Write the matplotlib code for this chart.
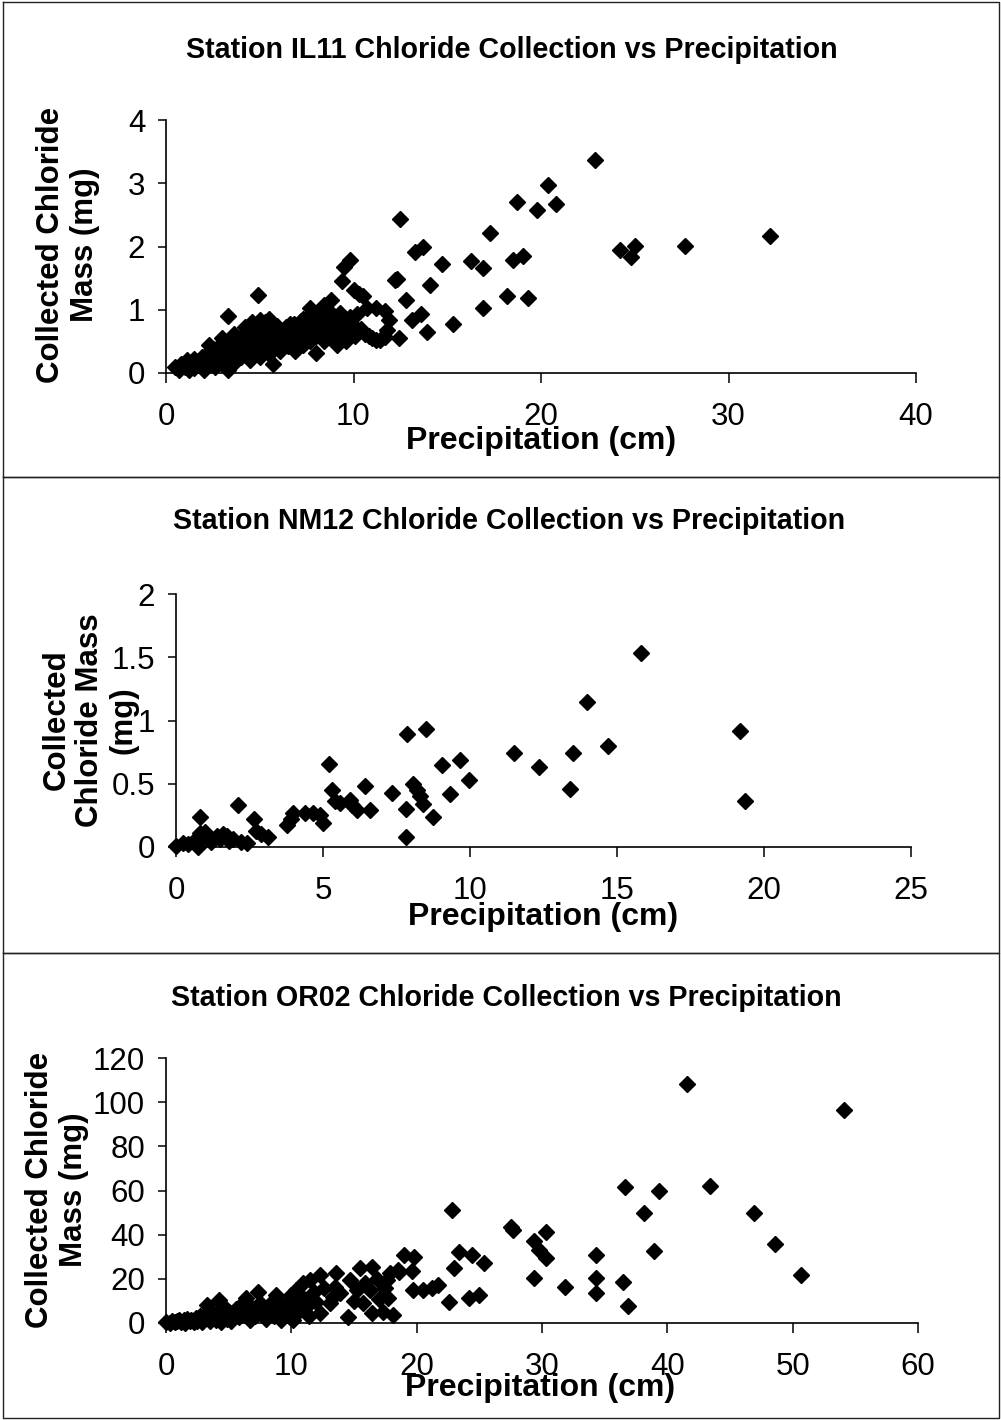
import numpy as np
import matplotlib
matplotlib.use("Agg")
import matplotlib.pyplot as plt
from matplotlib.lines import Line2D

plt.rcParams['font.family'] = ['Liberation Sans', 'DejaVu Sans']

# Station IL11: precipitation (cm), chloride mass (mg)
il11_x = [0.5, 0.7, 0.8, 1.0, 1.1, 1.2, 1.3, 1.5, 1.5, 1.7, 1.8, 1.9, 2.0, 2.1, 2.2, 2.3, 2.5, 2.5,
          2.6, 2.7, 2.8, 2.9, 3.0, 3.1, 3.2, 3.3, 3.3, 3.4, 3.5, 3.6, 3.7, 3.8, 3.9, 4.0, 4.0, 4.1,
          4.2, 4.3, 4.4, 4.5, 4.5, 4.6, 4.7, 4.8, 4.9, 5.0, 5.0, 5.1, 5.2, 5.3, 5.4, 5.5, 5.5, 5.6,
          5.7, 5.8, 5.9, 6.0, 6.1, 6.2, 6.3, 6.4, 6.5, 6.6, 6.7, 6.8, 6.9, 7.0, 7.1, 7.2, 7.3, 7.4,
          7.5, 7.6, 7.7, 7.7, 7.8, 7.9, 8.0, 8.0, 8.1, 8.2, 8.3, 8.4, 8.4, 8.5, 8.6, 8.7, 8.8, 8.8,
          8.9, 9.0, 9.1, 9.2, 9.3, 9.4, 9.4, 9.5, 9.5, 9.6, 9.7, 9.8, 9.8, 9.9, 10.0, 10.0, 10.1,
          10.2, 10.3, 10.4, 10.5, 10.6, 10.7, 10.8, 11.0, 11.2, 11.4, 11.7, 11.8, 11.9, 11.7, 11.2,
          2.3, 2.7, 3.0, 3.6, 4.2, 4.6, 5.3, 6.0, 6.6, 7.3,
          3.3, 4.9, 5.0, 5.5, 12.2, 12.3, 12.4, 12.5, 12.8, 13.1, 13.3, 13.6, 13.7, 13.9, 14.1,
          14.7, 15.3, 16.25, 16.9, 16.9, 17.3, 18.2, 18.5, 18.7, 19.05, 19.3, 19.8, 20.36, 20.8,
          22.9, 24.2, 24.8, 25.0, 27.7, 32.2]
il11_y = [0.10, 0.05, 0.15, 0.10, 0.20, 0.05, 0.15, 0.22, 0.08, 0.18, 0.12, 0.25, 0.05, 0.20, 0.30,
          0.15, 0.25, 0.38, 0.10, 0.30, 0.20, 0.42, 0.28, 0.15, 0.35, 0.05, 0.48, 0.25, 0.40, 0.30,
          0.18, 0.52, 0.35, 0.45, 0.25, 0.60, 0.38, 0.28, 0.50, 0.65, 0.20, 0.42, 0.32, 0.58, 0.75,
          0.45, 0.25, 0.62, 0.35, 0.80, 0.50, 0.68, 0.30, 0.42, 0.15, 0.58, 0.75, 0.48, 0.35, 0.65,
          0.55, 0.72, 0.42, 0.62, 0.50, 0.78, 0.35, 0.68, 0.55, 0.82, 0.45, 0.72, 0.60, 0.90, 0.50,
          1.02, 0.70, 0.82, 0.32, 0.58, 0.95, 0.68, 0.78, 1.07, 0.50, 0.88, 0.65, 0.98, 1.15, 0.75,
          0.55, 0.85, 0.45, 0.70, 0.95, 1.45, 0.60, 1.68, 0.80, 0.50, 0.72, 1.79, 0.88, 0.62, 1.31,
          0.75, 0.58, 0.94, 1.25, 0.70, 1.21, 0.62, 1.02, 0.58, 0.55, 1.02, 0.52, 0.98, 0.68, 0.84,
          0.57, 0.52,
          0.45, 0.40, 0.55, 0.62, 0.72, 0.80, 0.62, 0.70, 0.78, 0.85,
          0.90, 1.23, 0.84, 0.85, 1.47, 1.48, 0.56, 2.43, 1.16, 0.84, 1.92, 0.94, 2.00, 0.65, 1.39,
          1.73, 0.78, 1.77, 1.66, 1.02, 2.21, 1.21, 1.79, 2.71, 1.85, 1.19, 2.57, 2.98, 2.67,
          3.36, 1.95, 1.84, 2.01, 2.01, 2.16]

# Station NM12
nm12_x = [0.0, 0.25, 0.4, 0.6, 0.76, 0.8, 0.82, 0.9, 1.0, 1.1, 1.2, 1.38, 1.5, 1.6, 1.72, 1.8, 1.95,
          2.12, 2.2, 2.4, 2.65, 2.72, 2.9, 3.14, 3.76, 3.9, 3.99, 4.39, 4.67, 4.9, 5.0, 5.2, 5.3,
          5.4, 5.58, 5.92, 6.15, 6.0, 6.43, 6.6, 7.36, 7.82, 7.82, 7.87, 8.07, 8.19, 8.3, 8.4, 8.5,
          8.75, 9.04, 9.32, 9.66, 9.98, 11.5, 12.35, 13.4, 13.5, 13.97, 14.7, 15.8, 19.2, 19.35]
nm12_y = [0.01, 0.03, 0.02, 0.05, 0.00, 0.24, 0.11, 0.06, 0.12, 0.08, 0.04, 0.09, 0.06, 0.10, 0.09,
          0.05, 0.06, 0.33, 0.04, 0.03, 0.22, 0.13, 0.10, 0.08, 0.17, 0.22, 0.27, 0.27, 0.27, 0.25,
          0.19, 0.66, 0.45, 0.36, 0.35, 0.37, 0.29, 0.33, 0.48, 0.29, 0.43, 0.30, 0.08, 0.89, 0.50,
          0.45, 0.40, 0.34, 0.93, 0.24, 0.65, 0.42, 0.69, 0.53, 0.74, 0.63, 0.46, 0.74, 1.15, 0.80,
          1.53, 0.92, 0.36]

# Station OR02
or02_x = [0.0, 0.3, 0.5, 0.7, 0.9, 1.0, 1.2, 1.4, 1.5, 1.7, 1.9, 2.0, 2.2, 2.4, 2.5, 2.7, 2.9, 3.0,
          3.2, 3.3, 3.4, 3.5, 3.7, 3.9, 4.0, 4.2, 4.3, 4.4, 4.5, 4.7, 4.9, 5.0, 5.2, 5.4, 5.6, 5.8,
          6.0, 6.2, 6.4, 6.5, 6.7, 6.9, 7.1, 7.35, 7.5, 7.6, 7.8, 8.0, 8.2, 8.4, 8.6, 8.8, 8.9, 9.0,
          9.2, 9.35, 9.5, 9.7, 9.9, 10.0, 10.1, 10.2, 10.4, 10.5, 10.7, 10.9, 11.0, 11.2, 11.4,
          11.5, 11.8, 12.0, 12.3, 12.3, 12.6, 13.1, 13.3, 13.5, 13.6, 13.9, 14.5, 14.7, 15.0, 15.2,
          15.5, 15.7, 15.9, 16.3, 16.4, 16.4, 16.8, 17.0, 17.3, 17.45, 17.6, 17.7, 17.85, 18.1,
          18.5, 18.6, 19.0, 19.6, 19.7, 19.8, 20.5, 21.2, 21.7, 22.6, 22.8, 22.95, 23.4, 24.2, 24.4,
          25.0, 25.4, 27.5, 27.7, 29.4, 29.4, 29.8, 30.3, 30.3, 31.8, 34.3, 34.3, 34.3, 36.5, 36.65,
          36.9, 38.1, 38.9, 39.3, 41.6, 43.4, 46.9, 48.6, 50.7, 54.1]
or02_y = [0.5, 0.2, 1.0, 0.3, 0.8, 1.5, 0.4, 1.2, 0.2, 2.0, 0.8, 1.5, 0.3, 2.2, 1.0, 3.0, 0.5, 1.8,
          4.0, 8.1, 2.5, 1.0, 5.0, 3.0, 1.5, 10.4, 6.0, 0.5, 3.5, 7.0, 2.0, 5.0, 1.0, 4.0, 6.5, 2.5,
          8.0, 3.5, 11.2, 5.5, 1.5, 7.0, 3.0, 14.2, 9.0, 4.5, 6.5, 2.0, 8.0, 5.0, 3.0, 12.7, 10.0,
          7.0, 1.5, 4.4, 8.5, 6.0, 2.5, 12.7, 1.4, 9.0, 14.9, 5.0, 7.5, 17.9, 11.0, 7.4, 3.0, 19.5,
          14.0, 9.5, 21.7, 4.4, 16.0, 8.9, 11.9, 16.4, 22.8, 13.5, 2.9, 19.5, 10.0, 14.9, 24.7, 8.9,
          18.0, 14.9, 25.5, 4.4, 20.0, 11.0, 5.1, 15.7, 19.5, 11.2, 22.5, 3.6, 24.0, 23.2, 30.8,
          23.7, 14.9, 29.7, 14.9, 15.7, 17.2, 9.4, 51.1, 24.7, 32.3, 11.2, 30.8, 12.7, 27.0, 43.6,
          42.0, 37.1, 20.2, 33.0, 41.3, 29.3, 16.4, 30.8, 20.2, 13.7, 18.4, 61.7, 7.8, 49.6, 32.6,
          59.6, 108.1, 62.0, 49.9, 35.7, 21.7, 96.4]

titles = ["Station IL11 Chloride Collection vs Precipitation",
          "Station NM12 Chloride Collection vs Precipitation",
          "Station OR02 Chloride Collection vs Precipitation"]
ylabels = ["Collected Chloride\nMass (mg)",
           "Collected\nChloride Mass\n(mg)",
           "Collected Chloride\nMass (mg)"]
xticks = [[0, 10, 20, 30, 40], [0, 5, 10, 15, 20, 25], [0, 10, 20, 30, 40, 50, 60]]
yticks = [[0, 1, 2, 3, 4], [0, 0.5, 1, 1.5, 2], [0, 20, 40, 60, 80, 100, 120]]
yticklabels = [["0", "1", "2", "3", "4"], ["0", "0.5", "1", "1.5", "2"],
               ["0", "20", "40", "60", "80", "100", "120"]]

W, H = 1001, 1420
fig = plt.figure(figsize=(W / 100, H / 100), dpi=100)
fig.patch.set_facecolor('white')

# axes boxes in pixels: left, top, right, bottom
boxes = [(166, 120, 916, 373), (176, 594, 911, 847), (166, 1058, 918, 1323)]
# panel frames (top, bottom), title, xlabel and ylabel centres
frames = [(2, 477), (477, 953), (953, 1418)]
title_pos = [(512, 50), (509, 521), (506, 998)]
xlab_pos = [(541, 441), (543, 917), (540, 1388)]
ylab_pos = [(68, 245), (90, 720), (57, 1190)]

data = [(il11_x, il11_y), (nm12_x, nm12_y), (or02_x, or02_y)]

for i in range(3):
    l, t, r, b = boxes[i]
    ax = fig.add_axes([l / W, 1 - b / H, (r - l) / W, (b - t) / H])
    x, y = data[i]
    ax.plot(x, y, 'D', color='black', ms=8.3, clip_on=False, zorder=3)
    ax.set_xlim(xticks[i][0], xticks[i][-1])
    ax.set_ylim(yticks[i][0], yticks[i][-1])
    ax.set_xticks(xticks[i])
    ax.set_yticks(yticks[i])
    ax.set_yticklabels(yticklabels[i])
    ax.spines['top'].set_visible(False)
    ax.spines['right'].set_visible(False)
    ax.spines['left'].set_linewidth(1.2)
    ax.spines['bottom'].set_linewidth(1.2)
    ax.tick_params(axis='x', direction='out', length=7, width=1.1, labelsize=22.5, pad=14)
    ax.tick_params(axis='y', direction='out', length=6, width=1.1, labelsize=22.5, pad=9)

    fig.text(title_pos[i][0] / W, 1 - title_pos[i][1] / H, titles[i],
             ha='center', va='center', fontsize=20.6, fontweight='bold')
    fig.text(xlab_pos[i][0] / W, 1 - xlab_pos[i][1] / H, "Precipitation (cm)",
             ha='center', va='center', fontsize=23, fontweight='bold')
    fig.text(ylab_pos[i][0] / W, 1 - ylab_pos[i][1] / H, ylabels[i],
             ha='center', va='center', rotation=90, multialignment='center',
             fontsize=22.5, fontweight='bold', linespacing=1.15)

    # chart area border
    ft, fb = frames[i]
    xs = [3 / W, 999 / W, 999 / W, 3 / W, 3 / W]
    ys = [1 - ft / H, 1 - ft / H, 1 - fb / H, 1 - fb / H, 1 - ft / H]
    fig.add_artist(Line2D(xs, ys, transform=fig.transFigure, color='#222222', lw=1.0))

fig.savefig("out.png", dpi=100, facecolor='white')
